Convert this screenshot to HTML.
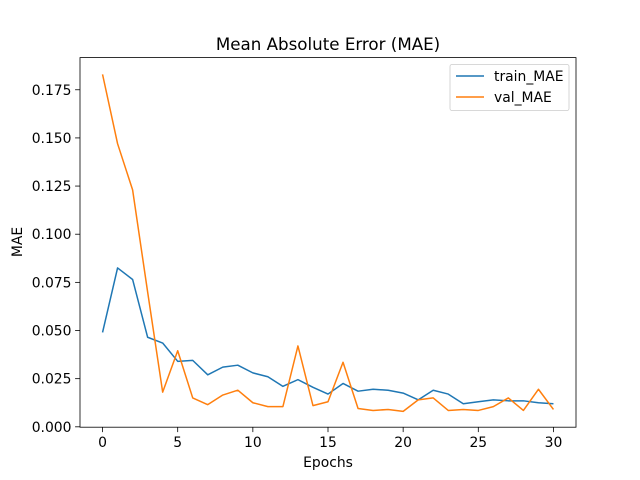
<!DOCTYPE html>
<html><head><meta charset="utf-8"><style>body{margin:0;background:#fff}svg{display:block;font-family:"DejaVu Sans","Liberation Sans",sans-serif}</style></head>
<body>
<svg id="c" width="640" height="480"></svg>
<script>
const epochs=[...Array(31).keys()];
const trainMAE=[0.049,0.0825,0.0765,0.0465,0.0435,0.034,0.0345,0.027,0.031,0.032,0.028,0.026,0.021,0.0245,0.0205,0.017,0.0225,0.0185,0.0195,0.019,0.0175,0.014,0.019,0.017,0.012,0.013,0.014,0.0135,0.0135,0.0125,0.012];
const valMAE=[0.183,0.147,0.123,0.07,0.018,0.0395,0.015,0.0115,0.0165,0.019,0.0125,0.0105,0.0105,0.042,0.011,0.013,0.0335,0.0095,0.0085,0.009,0.008,0.014,0.015,0.0085,0.009,0.0085,0.0105,0.015,0.0085,0.0195,0.009];
const xTicks=[0,5,10,15,20,25,30];
const yTicks=[0,0.025,0.05,0.075,0.1,0.125,0.15,0.175];
const L=80,R=576,T=57.6,B=427.2;
const xmin=-1.5,xmax=31.5,ymin=-0.0002,ymax=0.1917;
const X=v=>L+(v-xmin)/(xmax-xmin)*(R-L);
const Y=v=>B-(v-ymin)/(ymax-ymin)*(B-T);
const svg=document.getElementById('c');const NS='http://www.w3.org/2000/svg';
function el(t,a,txt){const e=document.createElementNS(NS,t);for(const k in a)e.setAttribute(k,a[k]);if(txt!==undefined)e.textContent=txt;svg.appendChild(e);return e;}
let e;
e=el('rect',{x:L,y:T,width:R-L,height:B-T,fill:'none',stroke:'#000','stroke-width':0.8});


xTicks.forEach(t=>{
 e=el('line',{x1:X(t),x2:X(t),y1:B,y2:B+4.9,stroke:'#000','stroke-width':0.8});
 
 
 e=el('text',{x:X(t),y:B+20,'font-size':13.9,'text-anchor':'middle'},String(t));
 
 
});
yTicks.forEach(t=>{
 e=el('line',{x1:L-4.9,x2:L,y1:Y(t),y2:Y(t),stroke:'#000','stroke-width':0.8});
 
 
 e=el('text',{x:L-8.5,y:Y(t)+5,'font-size':13.9,'text-anchor':'end'},t.toFixed(3));
 
 
});
function line(d,c,n){e=el('polyline',{points:d.map((v,i)=>X(epochs[i])+','+Y(v)).join(' '),fill:'none',stroke:c,'stroke-width':1.5,'stroke-linejoin':'round'});
 
 }
line(trainMAE,'#1f77b4','train-mae-line');
line(valMAE,'#ff7f0e','val-mae-line');
e=el('text',{x:328,y:50,'font-size':16.7,'text-anchor':'middle'},'Mean Absolute Error (MAE)');


e=el('text',{x:328,y:467,'font-size':13.9,'text-anchor':'middle'},'Epochs');


e=el('text',{x:22,y:242,'font-size':13.9,'text-anchor':'middle',transform:'rotate(-90 22 242)'},'MAE');


e=el('rect',{x:450,y:64.5,width:119,height:46,rx:2,fill:'#fff',stroke:'#ccc','stroke-width':0.8});


[['train_MAE','#1f77b4',81],['val_MAE','#ff7f0e',102]].forEach(([n,c,y])=>{
 e=el('line',{x1:456,x2:484,y1:y-5,y2:y-5,stroke:c,'stroke-width':1.5});
 
 
 e=el('text',{x:494,y:y,'font-size':13.9},n);
 
 
});
</script>
</body></html>
